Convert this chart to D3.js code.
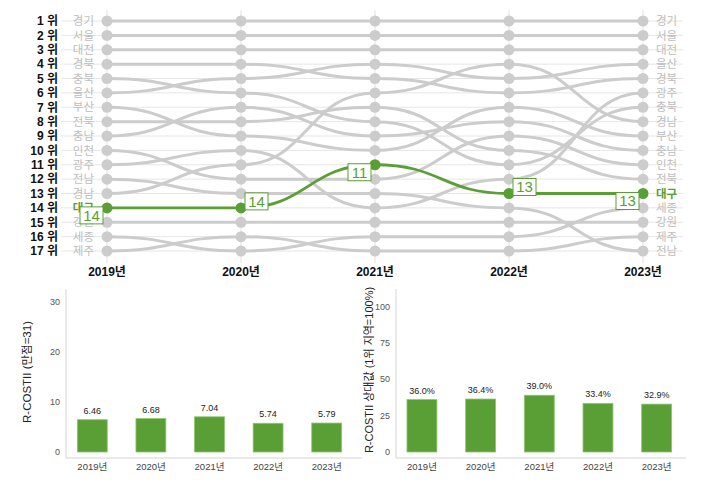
<!DOCTYPE html>
<html><head><meta charset="utf-8">
<script src="https://cdn.jsdelivr.net/npm/d3@7"></script>
<style>
html,body{margin:0;padding:0;background:#fff;}
svg{display:block;font-family:"Liberation Sans","Noto Sans CJK KR",sans-serif;}
</style></head><body>
<svg id="c" width="704" height="484"></svg>
<script>
// ---------- data ----------
const years = ["2019", "2020", "2021", "2022", "2023"];
const yearLabels = ["2019년", "2020년", "2021년", "2022년", "2023년"];
const rank2019 = ["경기","서울","대전","경북","충북","울산","부산","전북","충남","인천","광주","전남","경남","대구","강원","세종","제주"];
const rank2020 = ["경기","서울","대전","경북","울산","충북","충남","전북","부산","광주","경남","인천","전남","대구","강원","제주","세종"];
const rank2021 = ["경기","서울","대전","울산","경북","경남","전북","충북","충남","부산","대구","인천","전남","광주","강원","세종","제주"];
const rank2022 = ["경기","서울","대전","경남","울산","경북","부산","충남","인천","전북","충북","광주","대구","전남","강원","세종","제주"];
const rank2023 = ["경기","서울","대전","울산","경북","광주","충북","경남","부산","충남","인천","전북","대구","세종","강원","제주","전남"];
const rankings = [rank2019, rank2020, rank2021, rank2022, rank2023];
const highlight = "대구";
const rankNumbers = d3.range(1, 18);

const scoreValues = [6.46, 6.68, 7.04, 5.74, 5.79];
const relValues = [36.0, 36.4, 39.0, 33.4, 32.9];
const scoreTicks = [0, 10, 20, 30];
const relTicks = [0, 25, 50, 75, 100];
const scoreTitle = "R-COSTII (만점=31)";
const relTitle = "R-COSTII 상대값 (1위 지역=100%)";

// ---------- styles ----------
const GREEN = "#5a9f35";
const GRAY = "#cccccc";
const svg = d3.select("#c");

// ---------- bump chart ----------
const x = d3.scalePoint().domain(years).range([107, 643]);
const y = d3.scalePoint().domain(rankNumbers).range([21, 251]);

const g = svg.append("g");
g.selectAll("line.h").data(rankNumbers).join("line")
  .attr("x1", 61).attr("x2", 683)
  .attr("y1", d => y(d)).attr("y2", d => y(d))
  .attr("stroke", "#e6e6e6").attr("stroke-width", 1);
g.selectAll("line.v").data(years).join("line")
  .attr("x1", d => x(d)).attr("x2", d => x(d))
  .attr("y1", 10).attr("y2", 263)
  .attr("stroke", "#e2e2e2").attr("stroke-width", 1);

const regions = rank2019.slice();
const series = regions.map(r => ({
  name: r,
  pts: years.map((yr, i) => ({ year: yr, rank: rankings[i].indexOf(r) + 1 }))
}));

const line = d3.line().x(d => x(d.year)).y(d => y(d.rank)).curve(d3.curveBumpX);

const others = series.filter(s => s.name !== highlight);
const hi = series.find(s => s.name === highlight);

g.selectAll("path.o").data(others).join("path")
  .attr("d", d => line(d.pts)).attr("fill", "none")
  .attr("stroke", GRAY).attr("stroke-width", 3);
others.forEach(s => {
  g.selectAll(null).data(s.pts).join("circle")
    .attr("cx", d => x(d.year)).attr("cy", d => y(d.rank)).attr("r", 5.5)
    .attr("fill", GRAY);
});
g.append("path").attr("d", line(hi.pts)).attr("fill", "none")
  .attr("stroke", GREEN).attr("stroke-width", 2.8);
g.selectAll("circle.hi").data(hi.pts).join("circle")
  .attr("cx", d => x(d.year)).attr("cy", d => y(d.rank)).attr("r", 5.5)
  .attr("fill", GREEN);

g.selectAll("text.rk").data(rankNumbers).join("text")
  .attr("x", 58).attr("y", d => y(d)).attr("dy", "0.36em")
  .attr("text-anchor", "end").attr("font-size", 12).attr("font-weight", "bold")
  .attr("fill", "#111").text(d => d + " 위");

g.selectAll("text.l").data(rank2019).join("text")
  .attr("x", 94).attr("y", (d, i) => y(i + 1)).attr("dy", "0.36em")
  .attr("text-anchor", "end").attr("font-size", 11.5)
  .attr("fill", d => d === highlight ? GREEN : "#bdbdbd")
  .attr("font-weight", d => d === highlight ? "bold" : "normal")
  .text(d => d);
g.selectAll("text.r").data(rank2023).join("text")
  .attr("x", 656).attr("y", (d, i) => y(i + 1)).attr("dy", "0.36em")
  .attr("text-anchor", "start").attr("font-size", 11.5)
  .attr("fill", d => d === highlight ? GREEN : "#bdbdbd")
  .attr("font-weight", d => d === highlight ? "bold" : "normal")
  .text(d => d);

hi.pts.forEach((p, i) => {
  const px = x(p.year), py = y(p.rank);
  const bw = 23, bh = 17;
  const bx = i % 2 === 0 ? px - 4 - bw : px + 4;
  const by = i % 2 === 0 ? py - 1 : py - 15;
  g.append("rect").attr("x", bx).attr("y", by).attr("width", bw).attr("height", bh)
    .attr("fill", "#fff").attr("stroke", GREEN).attr("stroke-width", 1);
  g.append("text").attr("x", bx + bw / 2).attr("y", by + bh / 2).attr("dy", "0.36em")
    .attr("text-anchor", "middle").attr("font-size", 15).attr("fill", GREEN)
    .text(p.rank);
});

g.selectAll("text.yr").data(years).join("text")
  .attr("x", d => x(d)).attr("y", 276)
  .attr("text-anchor", "middle").attr("font-size", 12).attr("font-weight", "bold")
  .attr("fill", "#111").text((d, i) => yearLabels[i]);

// ---------- bar charts ----------
function barChart(o) {
  const gg = svg.append("g");
  const bx = d3.scaleBand().domain(yearLabels).range(o.range).paddingInner(0.49).paddingOuter(0.245);
  const by = d3.scaleLinear().domain([0, o.max]).range([452, 289]);
  gg.append("line").attr("x1", o.axisX).attr("x2", o.axisX)
    .attr("y1", by(o.max)).attr("y2", 458).attr("stroke", "#d4d4d4");
  gg.append("line").attr("x1", o.axisX).attr("x2", o.xEnd)
    .attr("y1", 458).attr("y2", 458).attr("stroke", "#d4d4d4");
  gg.selectAll("text.t").data(o.ticks).join("text")
    .attr("x", o.axisX - 6).attr("y", d => by(d)).attr("dy", "0.36em")
    .attr("text-anchor", "end").attr("font-size", 9).attr("fill", "#555")
    .text(d => d);
  gg.selectAll("rect").data(o.values).join("rect")
    .attr("x", (d, i) => bx(yearLabels[i])).attr("width", bx.bandwidth())
    .attr("y", d => by(d)).attr("height", d => by(0) - by(d))
    .attr("fill", GREEN).attr("stroke", "#8fc46f").attr("stroke-width", 0.8);
  gg.selectAll("text.v").data(o.values).join("text")
    .attr("x", (d, i) => bx(yearLabels[i]) + bx.bandwidth() / 2)
    .attr("y", d => by(d) - 6)
    .attr("text-anchor", "middle").attr("font-size", 9).attr("fill", "#222")
    .text(o.fmt);
  gg.selectAll("text.x").data(yearLabels).join("text")
    .attr("x", d => bx(d) + bx.bandwidth() / 2).attr("y", 470)
    .attr("text-anchor", "middle").attr("font-size", 9.5).attr("fill", "#444")
    .text(d => d);
  gg.append("text").attr("transform", `translate(${o.titleX},${o.titleY}) rotate(-90)`)
    .attr("text-anchor", "middle").attr("dy", "0.36em")
    .attr("font-size", o.titleSize).attr("fill", "#222").text(o.title);
}

barChart({ range: [63, 356], axisX: 66, xEnd: 362, max: 32.6, ticks: scoreTicks,
  values: scoreValues, fmt: d => d.toFixed(2), title: scoreTitle, titleX: 27, titleY: 372, titleSize: 11.5 });
barChart({ range: [392.6, 686], axisX: 396, xEnd: 686, max: 112, ticks: relTicks,
  values: relValues, fmt: d => d.toFixed(1) + "%", title: relTitle, titleX: 369, titleY: 370, titleSize: 11 });
</script>
</body></html>
